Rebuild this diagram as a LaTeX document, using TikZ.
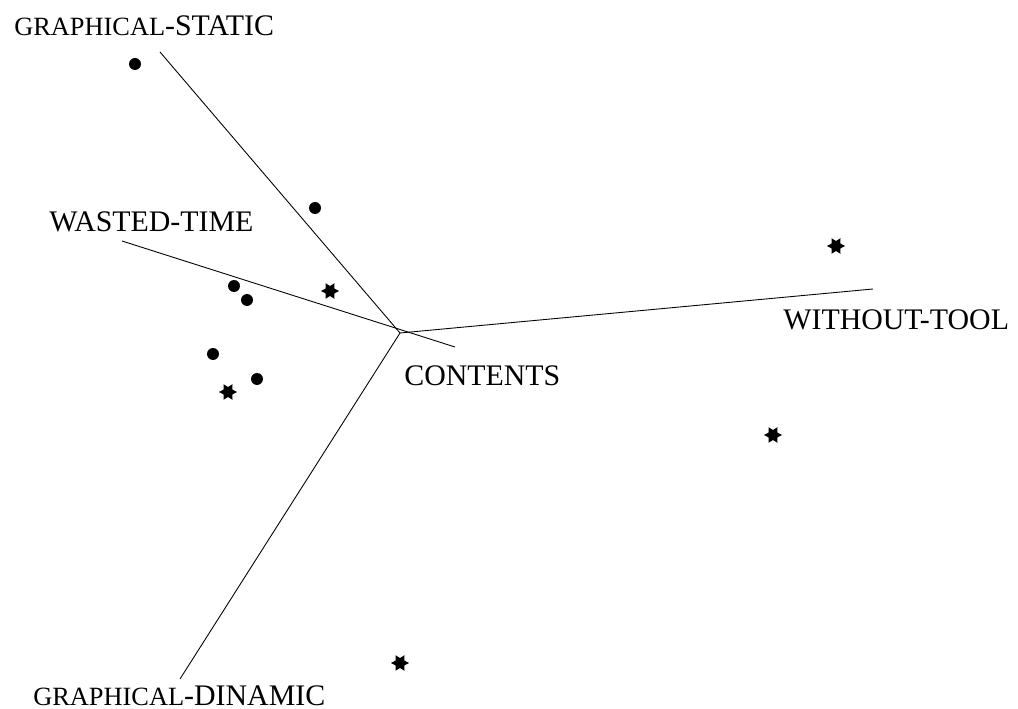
\documentclass[tikz,border=0pt]{standalone}
\usepackage{fontspec}
\setmainfont{Liberation Serif}
\usetikzlibrary{shapes.geometric}
\tikzset{
  dot/.style={circle,fill=black,inner sep=0pt,minimum size=0.24cm},
  starmark/.style={star,star points=6,star point ratio=1.8,shape border rotate=90,fill=black,inner sep=0pt,minimum size=0.36cm},
  axlabel/.style={anchor=base west,inner sep=0pt,font=\fontsize{17}{20}\selectfont},
  axis/.style={line width=0.5pt}
}
\newcommand{\smallpart}{\fontsize{15}{17}\selectfont}
\begin{document}
\begin{tikzpicture}[x=0.02cm,y=-0.02cm]
\useasboundingbox (0,0) rectangle (1018,709);

%Achsen
\coordinate (O) at (400,333);
\coordinate (static) at (160,52);
\coordinate (wastedA) at (122,241);
\coordinate (wastedB) at (455,347);
\coordinate (without) at (873,289);
\coordinate (dinamic) at (180,679);

\draw[axis] (static) -- (O);
\draw[axis] (wastedA) -- (wastedB);
\draw[axis] (O) -- (without);
\draw[axis] (O) -- (dinamic);

%Punkte
\node[dot] (d1) at (135,64) {};
\node[dot] (d2) at (315,208) {};
\node[dot] (d3) at (234,286) {};
\node[dot] (d4) at (247,300) {};
\node[dot] (d5) at (213,354) {};
\node[dot] (d6) at (257,379) {};

\node[starmark] (s1) at (330,291) {};
\node[starmark] (s2) at (836,246) {};
\node[starmark] (s3) at (228,392) {};
\node[starmark] (s4) at (773,435) {};
\node[starmark] (s5) at (400,663) {};

%Beschriftung
\node[axlabel] (lstatic) at (14,36) {{\smallpart GRAPHICAL}-STATIC};
\node[axlabel] (lwasted) at (49,232) {WASTED-TIME};
\node[axlabel] (lwithout) at (783,330) {WITHOUT-TOOL};
\node[axlabel] (lcontents) at (404,386) {CONTENTS};
\node[axlabel] (ldinamic) at (33,705) {{\smallpart GRAPHICAL}-DINAMIC};

\end{tikzpicture}
\end{document}
